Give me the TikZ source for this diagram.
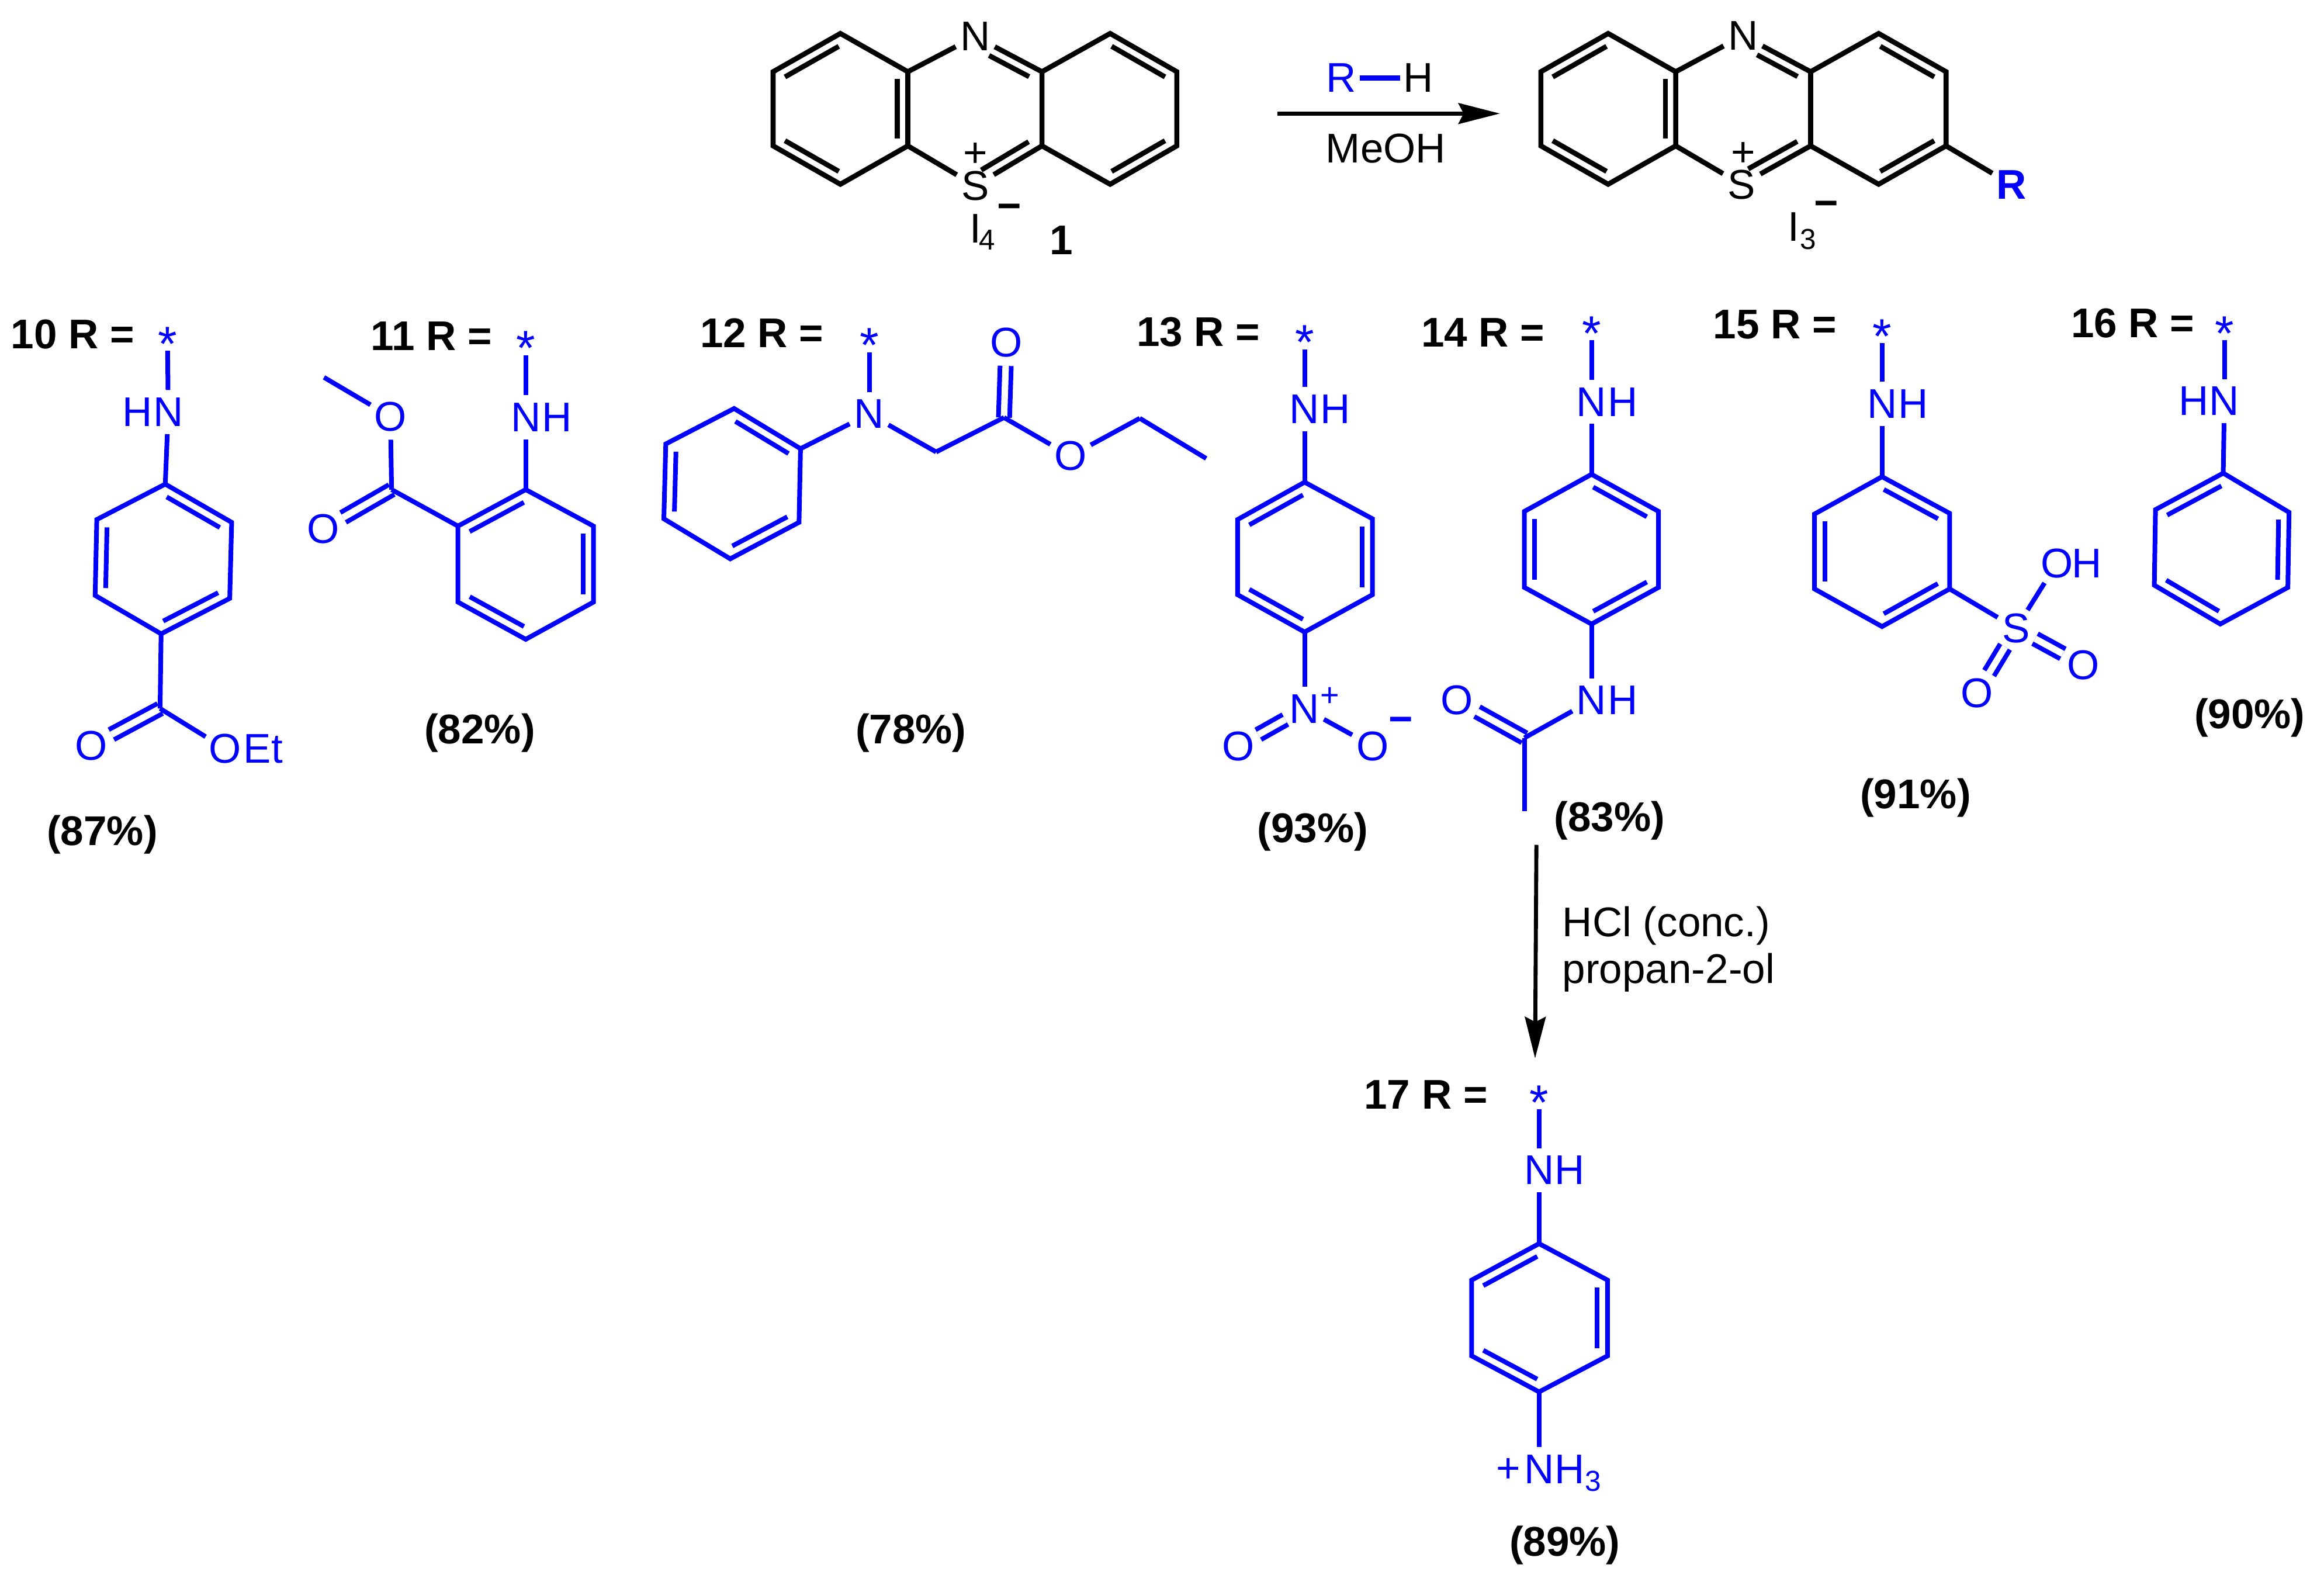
\documentclass[tikz,border=0pt]{standalone}
\usepackage{fontspec}
\setmainfont{Liberation Sans}
\usetikzlibrary{calc,arrows.meta}

\newcommand{\normsize}{\fontsize{28}{32}\selectfont}
\newcommand{\subsize}{\fontsize{19.5}{22}\selectfont}
\newcommand{\starmark}{\fontsize{33}{36}\selectfont\raisebox{-.36em}[.26em][0pt]{*}}

\tikzset{
  bondk/.style={line width=3.4pt,black},
  bondb/.style={line width=3.15pt,blue},
  dblk/.style={bondk,double=white,double distance=4.2pt},
  dblb/.style={bondb,double=white,double distance=4.4pt},
  atomk/.style={circle,inner sep=.5pt,font=\normsize,text=black},
  atomb/.style={circle,inner sep=.5pt,font=\normsize,text=blue},
  chargek/.style={inner sep=0pt,font=\normsize,text=black},
  chargeb/.style={inner sep=0pt,font=\normsize,text=blue},
  minusk/.style={inner sep=0pt,font=\normsize\bfseries,text=black,yshift=-3.5pt},
  minusb/.style={inner sep=0pt,font=\normsize\bfseries,text=blue,yshift=-3.5pt},
  subk/.style={inner sep=0pt,font=\subsize,text=black},
  subb/.style={inner sep=0pt,font=\subsize,text=blue},
  starb/.style={inner sep=5pt,text=blue},
  cpdlab/.style={inner sep=0pt,font=\normsize\bfseries,text=black},
  yieldlab/.style={cpdlab,yshift=-1.5pt},
  reaglab/.style={inner sep=2pt,font=\normsize},
  rxnarrow/.style={line width=2.7pt,-{Stealth[length=28pt,width=14pt,inset=3.5pt]}}
}

\newcommand{\innerpart}[5]{\draw[#1] ($(#2)!#4!(#3)!7pt!90:(#3)$) -- ($(#2)!#5!(#3)!7pt!90:(#3)$);}
\newcommand{\innerk}[2]{\innerpart{bondk}{#1}{#2}{.1}{.9}}
\newcommand{\innerb}[2]{\innerpart{bondb}{#1}{#2}{.1}{.9}}

\begin{document}
\begin{tikzpicture}[x=1pt,y=-1pt]

\useasboundingbox (0,0) rectangle (1568,1062.2);

\coordinate (at) at (567,22.6);
\coordinate (aul) at (521.6,48.4);
\coordinate (all) at (521.6,98.4);
\coordinate (ab) at (567,124.3);
\coordinate (alr) at (612.5,98.4);
\coordinate (aur) at (612.5,48.4);
\coordinate (bul) at (703,48.4);
\coordinate (bll) at (703,98.4);
\coordinate (bt) at (749,22.6);
\coordinate (bur) at (794,48.4);
\coordinate (blr) at (794,98.4);
\coordinate (bb) at (749,124.3);

\node[atomk] (na) at (658,24.6) {N};
\node[atomk] (sa) at (658,125.3) {S};
\node[chargek] (pa) at (658,104.6) {+};
\node[minusk] (ma) at (681,139.5) {−};
\node[chargek] (ia) at (658,154) {I};
\node[subk] (fa) at (666,162) {4};
\node[cpdlab] (one) at (716,162) {1};

\draw[bondk] (at) -- (aul) -- (all) -- (ab) -- (alr) -- (aur) -- cycle;
\draw[bondk] (bul) -- (bll) -- (bb) -- (blr) -- (bur) -- (bt) -- cycle;
\draw[bondk] (aur) -- (na);
\draw[bondk] (bul) -- (na);
\draw[bondk] (alr) -- (sa);
\draw[bondk] (bll) -- (sa);
\innerk{at}{aul}
\innerk{all}{ab}
\innerk{alr}{aur}
\innerk{bur}{bt}
\innerk{bb}{blr}
\innerpart{bondk}{bul}{na}{.12}{.72}
\innerpart{bondk}{sa}{bll}{.17}{.88}

\node[reaglab,text=blue] (rr) at (905,52.6) {R};
\node[reaglab] (hh) at (957,52.6) {H};
\node[reaglab] (meoh) at (935,100) {MeOH};
\coordinate (arra) at (862,76.6);
\coordinate (arrb) at (1012,76.6);

\draw[bondb,line width=3.3pt] (rr) -- (hh);
\draw[rxnarrow] (arra) -- (arrb);

\coordinate (ct) at (1085,22.6);
\coordinate (cul) at (1039.6,48.4);
\coordinate (cll) at (1039.6,98.4);
\coordinate (cb) at (1085,124.3);
\coordinate (clr) at (1130.6,98.4);
\coordinate (cur) at (1130.6,48.4);
\coordinate (dul) at (1221.6,48.4);
\coordinate (dll) at (1221.6,98.4);
\coordinate (dt) at (1267.5,22.6);
\coordinate (dur) at (1313,48.4);
\coordinate (dlr) at (1313,98.4);
\coordinate (db) at (1267.5,124.3);

\node[atomk] (nc) at (1176,24) {N};
\node[atomk] (sc) at (1175,124.5) {S};
\node[chargek] (pc) at (1176,104) {+};
\node[minusk] (mc) at (1232,137.5) {−};
\node[chargek] (ic) at (1210,153) {I};
\node[subk] (tc) at (1220,161.5) {3};
\node[atomb,font=\normsize\bfseries] (rc) at (1357,124.5) {R};

\draw[bondk] (ct) -- (cul) -- (cll) -- (cb) -- (clr) -- (cur) -- cycle;
\draw[bondk] (dul) -- (dll) -- (db) -- (dlr) -- (dur) -- (dt) -- cycle;
\draw[bondk] (cur) -- (nc);
\draw[bondk] (dul) -- (nc);
\draw[bondk] (clr) -- (sc);
\draw[bondk] (dll) -- (sc);
\draw[bondk] (dlr) -- (rc);
\innerk{ct}{cul}
\innerk{cll}{cb}
\innerk{clr}{cur}
\innerk{dur}{dt}
\innerk{db}{dlr}
\innerpart{bondk}{dul}{nc}{.12}{.72}
\innerpart{bondk}{sc}{dll}{.17}{.88}

\node[cpdlab] (l10) at (49,225.5) {10 R =};
\node[starb] (st10) at (113,227.1) {\starmark};
\node[atomb] (n10) at (113.5,278) {N};
\node[atomb] (h10) at (92.7,278) {H};
\coordinate (t10) at (111.5,326.6);
\coordinate (ur10) at (156.3,352.4);
\coordinate (lr10) at (155,403.7);
\coordinate (b10) at (108.7,427.6);
\coordinate (ll10) at (64.2,401.7);
\coordinate (ul10) at (65.3,350.5);
\coordinate (c10) at (108,478);
\node[atomb] (o10) at (61.4,503) {O};
\node[atomb] (e10) at (152,505.2) {O};
\node[atomb] (et10) at (177.5,505.2) {Et};
\node[yieldlab] (y10) at (69,561.4) {(87\%)};

\draw[dblb] (c10) -- (o10);
\draw[bondb] (st10) -- (n10);
\draw[bondb] (n10) -- (t10);
\draw[bondb] (t10) -- (ul10) -- (ll10) -- (b10) -- (lr10) -- (ur10) -- cycle;
\draw[bondb] (b10) -- (c10);
\draw[bondb] (c10) -- (e10);
\innerb{ur10}{t10}
\innerb{ul10}{ll10}
\innerb{b10}{lr10}

\node[cpdlab] (l11) at (291,226.8) {11 R =};
\node[starb] (st11) at (354.7,230.2) {\starmark};
\node[atomb] (n11) at (354.7,281.5) {N};
\node[atomb] (h11) at (375.8,281.5) {H};
\coordinate (t11) at (354.7,330.3);
\coordinate (ur11) at (400.4,354.9);
\coordinate (lr11) at (400.4,406.2);
\coordinate (b11) at (354.7,431.3);
\coordinate (ll11) at (309,406.2);
\coordinate (ul11) at (309,354.9);
\coordinate (c11) at (264.2,330.3);
\node[atomb] (o11) at (218,356.9) {O};
\node[atomb] (e11) at (263.4,281) {O};
\coordinate (me11) at (218.6,254.6);
\node[yieldlab] (y11) at (323.7,493) {(82\%)};

\draw[dblb] (c11) -- (o11);
\draw[bondb] (st11) -- (n11);
\draw[bondb] (n11) -- (t11);
\draw[bondb] (t11) -- (ul11) -- (ll11) -- (b11) -- (lr11) -- (ur11) -- cycle;
\draw[bondb] (ul11) -- (c11);
\draw[bondb] (c11) -- (e11);
\draw[bondb] (e11) -- (me11);
\innerb{t11}{ul11}
\innerb{lr11}{ur11}
\innerb{ll11}{b11}

\node[cpdlab] (l12) at (514,224.8) {12 R =};
\node[starb] (st12) at (586.5,228.2) {\starmark};
\node[atomb] (n12) at (586.5,279.3) {N};
\coordinate (ur12) at (540.1,302.7);
\coordinate (t12) at (495.3,275.6);
\coordinate (ul12) at (449.2,299.5);
\coordinate (ll12) at (447.9,350);
\coordinate (b12) at (492.7,377);
\coordinate (lr12) at (539.1,352.4);
\coordinate (ch12) at (631.6,304.9);
\coordinate (c12) at (677.4,281.7);
\node[atomb] (o12) at (679,231.2) {O};
\node[atomb] (e12) at (722.2,307.6) {O};
\coordinate (et12) at (769,282.2);
\coordinate (me12) at (813.8,309.3);
\node[yieldlab] (y12) at (614.6,493) {(78\%)};

\draw[dblb] (c12) -- (o12);
\draw[bondb] (st12) -- (n12);
\draw[bondb] (n12) -- (ur12);
\draw[bondb] (ur12) -- (t12) -- (ul12) -- (ll12) -- (b12) -- (lr12) -- cycle;
\draw[bondb] (n12) -- (ch12);
\draw[bondb] (ch12) -- (c12);
\draw[bondb] (c12) -- (e12);
\draw[bondb] (e12) -- (et12);
\draw[bondb] (et12) -- (me12);
\innerb{ur12}{t12}
\innerb{ul12}{ll12}
\innerb{b12}{lr12}

\node[cpdlab] (l13) at (808.5,223.8) {13 R =};
\node[starb] (st13) at (880.2,226.3) {\starmark};
\node[atomb] (n13) at (880.2,276) {N};
\node[atomb] (h13) at (900.8,276) {H};
\coordinate (t13) at (880.2,325.3);
\coordinate (ur13) at (926,350);
\coordinate (lr13) at (926,401.2);
\coordinate (b13) at (880.2,426.4);
\coordinate (ll13) at (835,401.2);
\coordinate (ul13) at (835,350.5);
\node[atomb] (no13) at (880.2,478.1) {N};
\node[chargeb] (p13) at (897.2,470.2) {\fontsize{22}{24}\selectfont +};
\node[atomb] (o13) at (835.4,503.3) {O};
\node[atomb] (m13) at (926,503.3) {O};
\node[minusb] (q13) at (945,485.5) {−};
\node[yieldlab] (y13) at (885.7,559.4) {(93\%)};

\draw[dblb] (no13) -- (o13);
\draw[bondb] (st13) -- (n13);
\draw[bondb] (n13) -- (t13);
\draw[bondb] (t13) -- (ul13) -- (ll13) -- (b13) -- (lr13) -- (ur13) -- cycle;
\draw[bondb] (b13) -- (no13);
\draw[bondb] (no13) -- (m13);
\innerb{t13}{ul13}
\innerb{lr13}{ur13}
\innerb{ll13}{b13}

\node[cpdlab] (l14) at (1000.5,224.3) {14 R =};
\node[starb] (st14) at (1073.8,220.1) {\starmark};
\node[atomb] (n14) at (1073.8,271.1) {N};
\node[atomb] (h14) at (1095,271.1) {H};
\coordinate (t14) at (1073.8,320);
\coordinate (ur14) at (1119,345);
\coordinate (lr14) at (1119,396.3);
\coordinate (b14) at (1073.8,421);
\coordinate (ll14) at (1028.5,396.3);
\coordinate (ul14) at (1028.5,345);
\node[atomb] (a14) at (1073.8,472.5) {N};
\node[atomb] (g14) at (1095,472.5) {H};
\coordinate (c14) at (1028.5,497.8);
\node[atomb] (o14) at (982.9,472.5) {O};
\coordinate (me14) at (1028.5,547.1);
\node[yieldlab] (y14) at (1086,552) {(83\%)};

\draw[dblb] (c14) -- (o14);
\draw[bondb] (st14) -- (n14);
\draw[bondb] (n14) -- (t14);
\draw[bondb] (t14) -- (ul14) -- (ll14) -- (b14) -- (lr14) -- (ur14) -- cycle;
\draw[bondb] (b14) -- (a14);
\draw[bondb] (a14) -- (c14);
\draw[bondb] (c14) -- (me14);
\innerb{ur14}{t14}
\innerb{ul14}{ll14}
\innerb{b14}{lr14}

\node[cpdlab] (l15) at (1197.5,218.9) {15 R =};
\node[starb] (st15) at (1269.8,222) {\starmark};
\node[atomb] (n15) at (1269.8,272.4) {N};
\node[atomb] (h15) at (1290.8,272.4) {H};
\coordinate (t15) at (1269.8,321.6);
\coordinate (ur15) at (1315.4,346.3);
\coordinate (lr15) at (1315.4,397.3);
\coordinate (b15) at (1269.8,422.7);
\coordinate (ll15) at (1224.2,397.3);
\coordinate (ul15) at (1224.2,346.8);
\node[atomb] (s15) at (1360.3,423.9) {S};
\node[atomb] (oh15) at (1387.7,380) {O};
\node[atomb] (g15) at (1408,380) {H};
\node[atomb] (o15) at (1405.5,448.6) {O};
\node[atomb] (u15) at (1334,467.5) {O};
\node[yieldlab] (y15) at (1292.4,536.8) {(91\%)};

\draw[dblb] (s15) -- (o15);
\draw[dblb] (s15) -- (u15);
\draw[bondb] (st15) -- (n15);
\draw[bondb] (n15) -- (t15);
\draw[bondb] (t15) -- (ul15) -- (ll15) -- (b15) -- (lr15) -- (ur15) -- cycle;
\draw[bondb] (lr15) -- (s15);
\draw[bondb] (s15) -- (oh15);
\innerb{ur15}{t15}
\innerb{ul15}{ll15}
\innerb{b15}{lr15}

\node[cpdlab] (l16) at (1439,218.1) {16 R =};
\node[starb] (st16) at (1500.8,220) {\starmark};
\node[atomb] (n16) at (1500.8,270.6) {N};
\node[atomb] (h16) at (1480,270.6) {H};
\coordinate (t16) at (1500,319.2);
\coordinate (ur16) at (1544.4,345.6);
\coordinate (lr16) at (1543.6,396.3);
\coordinate (b16) at (1498,421);
\coordinate (ll16) at (1453.5,394.8);
\coordinate (ul16) at (1454.3,343.8);
\node[yieldlab] (y16) at (1517.8,482.6) {(90\%)};

\draw[bondb] (st16) -- (n16);
\draw[bondb] (n16) -- (t16);
\draw[bondb] (t16) -- (ul16) -- (ll16) -- (b16) -- (lr16) -- (ur16) -- cycle;
\innerb{t16}{ul16}
\innerb{lr16}{ur16}
\innerb{ll16}{b16}

\coordinate (arrc) at (1036.6,570);
\coordinate (arrd) at (1035.7,714);
\node[reaglab,anchor=base west,inner sep=0pt] (hcl) at (1054,631.7) {HCl (conc.)};
\node[reaglab,anchor=base west,inner sep=0pt] (prop) at (1054,663.3) {propan-2-ol};

\draw[rxnarrow] (arrc) -- (arrd);

\node[cpdlab] (l17) at (962,738.4) {17 R =};
\node[starb] (st17) at (1038.4,739) {\starmark};
\node[atomb] (n17) at (1038.4,789.5) {N};
\node[atomb] (h17) at (1059,789.5) {H};
\coordinate (t17) at (1038.4,839);
\coordinate (ur17) at (1084.6,863.6);
\coordinate (lr17) at (1084.6,914.7);
\coordinate (b17) at (1038.4,939);
\coordinate (ll17) at (992.9,914.7);
\coordinate (ul17) at (992.9,863.6);
\node[atomb] (a17) at (1038.4,991.2) {N};
\node[atomb] (g17) at (1059,991.2) {H};
\node[subb] (s17) at (1074.8,999.3) {3};
\node[chargeb,yshift=-2pt] (p17) at (1017.8,990) {+};
\node[yieldlab] (y17) at (1055.8,1041) {(89\%)};

\draw[bondb] (st17) -- (n17);
\draw[bondb] (n17) -- (t17);
\draw[bondb] (t17) -- (ul17) -- (ll17) -- (b17) -- (lr17) -- (ur17) -- cycle;
\draw[bondb] (b17) -- (a17);
\innerb{t17}{ul17}
\innerb{lr17}{ur17}
\innerb{ll17}{b17}

\end{tikzpicture}
\end{document}
